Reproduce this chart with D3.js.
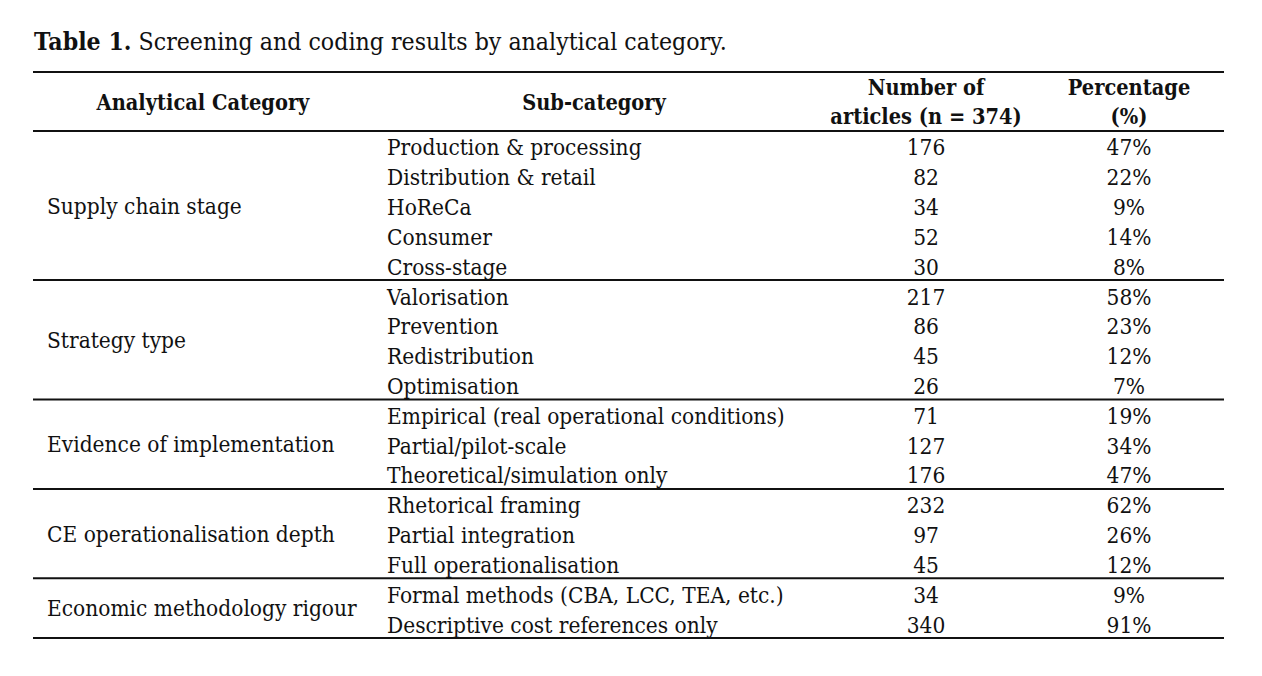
<!DOCTYPE html>
<html>
<head>
<meta charset="utf-8">
<script src="https://cdn.jsdelivr.net/npm/d3@7"></script>
<style>
  html, body { margin: 0; padding: 0; background: #fff; }
  svg { display: block; }
</style>
</head>
<body>
<svg id="chart" width="1262" height="676"></svg>
<script>
// ---------- data ----------
const titleBold = "Table 1.";
const titleText = " Screening and coding results by analytical category.";
const headerCategory = ["Analytical Category"];
const headerSub = ["Sub-category"];
const headerCount = ["Number of", "articles (n = 374)"];
const headerPct = ["Percentage", "(%)"];

const categories = ["Supply chain stage", "Strategy type", "Evidence of implementation",
  "CE operationalisation depth", "Economic methodology rigour"];
const groupSizes = [5, 4, 3, 3, 2];
const subCategories = [
  "Production & processing", "Distribution & retail", "HoReCa", "Consumer", "Cross-stage",
  "Valorisation", "Prevention", "Redistribution", "Optimisation",
  "Empirical (real operational conditions)", "Partial/pilot-scale", "Theoretical/simulation only",
  "Rhetorical framing", "Partial integration", "Full operationalisation",
  "Formal methods (CBA, LCC, TEA, etc.)", "Descriptive cost references only"
];
const articleCounts = [176, 82, 34, 52, 30, 217, 86, 45, 26, 71, 127, 176, 232, 97, 45, 34, 340];
const percentages = [47, 22, 9, 14, 8, 58, 23, 12, 7, 19, 34, 47, 62, 26, 12, 9, 91];

// ---------- layout ----------
const svg = d3.select("#chart");
const FONT = "'DejaVu Serif', 'Liberation Serif', serif";
const INK = "#111";
const STRETCH = 1.1; // vertical stretch to approximate the taller reference glyphs

function fitSize(str, weight, target) {
  const t = svg.append("text").attr("font-family", FONT).attr("font-size", 20)
    .attr("font-weight", weight).text(str);
  const w = t.node().getComputedTextLength();
  t.remove();
  return 20 * target / w;
}
const bodySize = fitSize("Empirical (real operational conditions)", "normal", 398);
const headSize = fitSize("Analytical Category", "bold", 213);

const left = 33, right = 1224;
const ruleTop = 72, ruleHead = 131, ruleBottom = 638;

const rowIndex = d3.range(subCategories.length);
const y = d3.scaleBand().domain(rowIndex).range([ruleHead, ruleBottom]).paddingInner(0);

const colX = { cat: 47, sub: 387, count: 926, pct: 1129, catHead: 203, subHead: 594 };

const place = (x, yy) => `translate(${x},${yy}) scale(1,${STRETCH})`;

// title
const title = svg.append("text")
  .attr("font-family", FONT).attr("fill", INK);
title.append("tspan").attr("font-weight", "bold").text(titleBold);
title.append("tspan").text(titleText);
title.attr("font-size", 20);
const tw = title.node().getComputedTextLength();
title.attr("font-size", 20 * 693 / tw).attr("transform", place(34, 50));

// rules
function rule(yy) {
  svg.append("line").attr("x1", left).attr("x2", right)
    .attr("y1", yy).attr("y2", yy)
    .attr("stroke", INK).attr("stroke-width", 2);
}
rule(ruleTop);
rule(ruleHead);

// header
const head = svg.append("g").attr("font-family", FONT).attr("font-weight", "bold")
  .attr("font-size", headSize).attr("fill", INK).attr("text-anchor", "middle");
const headMid = (ruleTop + ruleHead) / 2;
function headerCell(lines, x) {
  const lh = 28.5;
  lines.forEach((l, i) => {
    head.append("text")
      .attr("transform", place(x, headMid + 8 + (i - (lines.length - 1) / 2) * lh))
      .text(l);
  });
}
headerCell(headerCategory, colX.catHead);
headerCell(headerSub, colX.subHead);
headerCell(headerCount, colX.count);
headerCell(headerPct, colX.pct);

// body
const body = svg.append("g").attr("font-family", FONT).attr("font-size", bodySize).attr("fill", INK);
const base = i => y(i) + y.bandwidth() / 2 + 9.5;

body.selectAll("text.sub").data(subCategories).join("text").attr("class", "sub")
  .attr("transform", (d, i) => place(colX.sub, base(i))).text(d => d);
body.selectAll("text.cnt").data(articleCounts).join("text").attr("class", "cnt")
  .attr("text-anchor", "middle")
  .attr("transform", (d, i) => place(colX.count, base(i))).text(d => d);
body.selectAll("text.pct").data(percentages).join("text").attr("class", "pct")
  .attr("text-anchor", "middle")
  .attr("transform", (d, i) => place(colX.pct, base(i))).text(d => d + "%");

// groups
let start = 0;
categories.forEach((c, gi) => {
  const n = groupSizes[gi];
  const top = y(start), bottom = y(start + n - 1) + y.bandwidth();
  body.append("text").attr("transform", place(colX.cat, (top + bottom) / 2 + 8)).text(c);
  rule(bottom);
  start += n;
});
</script>
</body>
</html>
